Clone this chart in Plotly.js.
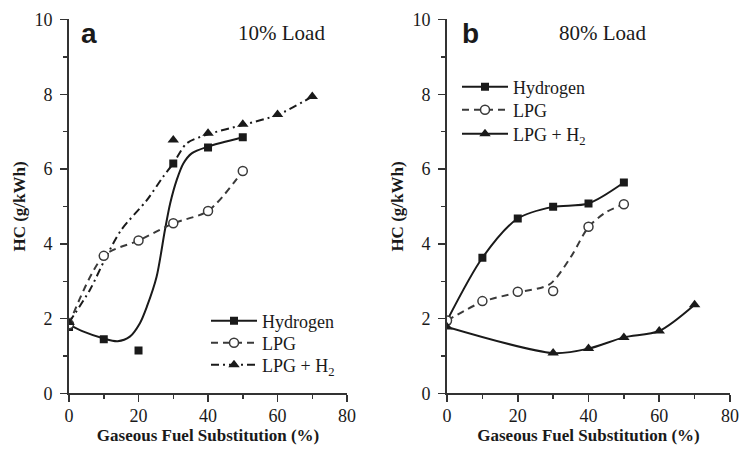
<!DOCTYPE html>
<html>
<head>
<meta charset="utf-8">
<script src="https://cdn.plot.ly/plotly-3.0.1.min.js"></script>
<style>
  html, body { margin: 0; padding: 0; background: #fff; }
  #chart { width: 739px; height: 451px; }
</style>
</head>
<body>
<div id="chart"></div>
<script>
// Gaseous fuel substitution levels (%)
const substitution = [0, 10, 20, 30, 40, 50];
const substitutionMix = [0, 30, 40, 50, 60, 70];

// (a) 10% load: measured HC emissions (g/kWh)
const hydrogenA = [1.78, 1.45, 1.15, 6.15, 6.58, 6.85];
const lpgA = [1.85, 3.68, 4.09, 4.55, 4.88, 5.95];
const lpgH2A = [1.9, 6.78, 6.96, 7.2, 7.46, 7.94];

// (a) 10% load: fitted trend curves
const hydrogenFitAx = [0, 4, 10, 14, 17.5, 20.4, 22.4, 25.2, 27.6, 29.1, 31, 32.9, 35.3, 40, 50];
const hydrogenFitAy = [1.84, 1.66, 1.47, 1.4, 1.52, 1.88, 2.32, 3.12, 4.37, 5.08, 5.71, 6.15, 6.42, 6.6, 6.85];
const lpgH2FitAx = [0, 6, 10.4, 15, 22.4, 27.1, 30, 33.9, 40, 50, 60, 70];
const lpgH2FitAy = [1.9, 2.77, 3.6, 4.37, 5.17, 5.8, 6.15, 6.69, 6.93, 7.18, 7.45, 7.94];

// (b) 80% load: measured HC emissions (g/kWh)
const hydrogenB = [1.95, 3.63, 4.68, 4.99, 5.08, 5.64];
const lpgB = [1.95, 2.47, 2.72, 2.74, 4.46, 5.06];
const lpgH2B = [1.78, 1.08, 1.2, 1.5, 1.67, 2.37];

// (b) 80% load: fitted LPG trend curve
const lpgFitBx = [0, 10, 20, 29, 35, 40, 45, 50];
const lpgFitBy = [1.95, 2.45, 2.7, 2.92, 3.65, 4.45, 4.85, 5.06];

// Series names
const seriesNames = ['Hydrogen', 'LPG', 'LPG + H<sub>2</sub>'];

const ink = '#1a1a1a';
const grey = '#3a3a3a';
const serif = 'Liberation Serif';

const sqMarker = {symbol: 'square', size: 8, color: ink};
const circMarker = {symbol: 'circle', size: 9, color: '#fff', line: {color: grey, width: 1.5}};
const triMarker = {symbol: 'triangle-up', size: 10, color: ink};

const solid = {color: ink, width: 2, shape: 'spline', smoothing: 0.8};
const dashed = {color: grey, width: 2, dash: '7px,5px', shape: 'spline', smoothing: 0.8};
const dashDot = {color: ink, width: 2, dash: '8px,4px,2px,4px', shape: 'spline', smoothing: 0.8};

function legendEntry(name, line, marker, xa, ya, legendId) {
  return {x: [null], y: [null], xaxis: xa, yaxis: ya, mode: 'lines+markers', name: name,
          line: line, marker: marker, legend: legendId, showlegend: true};
}

const traces = [
  // panel a curves
  {x: hydrogenFitAx, y: hydrogenFitAy, xaxis: 'x', yaxis: 'y', mode: 'lines', line: solid, showlegend: false, hoverinfo: 'skip'},
  {x: substitution, y: lpgA, xaxis: 'x', yaxis: 'y', mode: 'lines', line: dashed, showlegend: false, hoverinfo: 'skip'},
  {x: lpgH2FitAx, y: lpgH2FitAy, xaxis: 'x', yaxis: 'y', mode: 'lines', line: dashDot, showlegend: false, hoverinfo: 'skip'},
  // panel a markers
  {x: substitution, y: hydrogenA, xaxis: 'x', yaxis: 'y', mode: 'markers', marker: sqMarker, showlegend: false},
  {x: substitution, y: lpgA, xaxis: 'x', yaxis: 'y', mode: 'markers', marker: circMarker, showlegend: false},
  {x: substitutionMix, y: lpgH2A, xaxis: 'x', yaxis: 'y', mode: 'markers', marker: triMarker, showlegend: false},
  // panel a key
  legendEntry(seriesNames[0], {color: ink, width: 2}, sqMarker, 'x', 'y', 'legend'),
  legendEntry(seriesNames[1], {color: grey, width: 2, dash: '7px,5px'}, circMarker, 'x', 'y', 'legend2'),
  legendEntry(seriesNames[2], {color: ink, width: 2, dash: '8px,4px,2px,4px'}, triMarker, 'x', 'y', 'legend3'),

  // panel b curves
  {x: substitution, y: hydrogenB, xaxis: 'x2', yaxis: 'y2', mode: 'lines', line: solid, showlegend: false, hoverinfo: 'skip'},
  {x: lpgFitBx, y: lpgFitBy, xaxis: 'x2', yaxis: 'y2', mode: 'lines', line: dashed, showlegend: false, hoverinfo: 'skip'},
  {x: substitutionMix, y: lpgH2B, xaxis: 'x2', yaxis: 'y2', mode: 'lines', line: solid, showlegend: false, hoverinfo: 'skip'},
  // panel b markers
  {x: substitution, y: hydrogenB, xaxis: 'x2', yaxis: 'y2', mode: 'markers', marker: sqMarker, showlegend: false},
  {x: substitution, y: lpgB, xaxis: 'x2', yaxis: 'y2', mode: 'markers', marker: circMarker, showlegend: false},
  {x: substitutionMix, y: lpgH2B, xaxis: 'x2', yaxis: 'y2', mode: 'markers', marker: triMarker, showlegend: false},
  // panel b key
  legendEntry(seriesNames[0], {color: ink, width: 2}, sqMarker, 'x2', 'y2', 'legend4'),
  legendEntry(seriesNames[1], {color: grey, width: 2, dash: '7px,5px'}, circMarker, 'x2', 'y2', 'legend5'),
  legendEntry(seriesNames[2], {color: ink, width: 2}, triMarker, 'x2', 'y2', 'legend6')
];

function xAxis(domain, anchor) {
  return {
    domain: domain, anchor: anchor, range: [0, 80], dtick: 20, tick0: 0,
    showline: true, linewidth: 2, linecolor: '#333', showgrid: false, zeroline: false,
    ticks: 'outside', ticklen: 7, tickwidth: 1.5, tickcolor: '#333',
    minor: {dtick: 10, ticks: 'outside', ticklen: 4, tickwidth: 1.5, tickcolor: '#333', showgrid: false},
    tickfont: {family: serif, size: 18, color: ink},
    ticklabelstandoff: -2,
    title: {text: '<b>Gaseous Fuel Substitution (%)</b>', font: {family: serif, size: 17, color: ink}, standoff: 0},
    automargin: false, fixedrange: true
  };
}
function yAxis(domain, anchor) {
  return {
    domain: domain, anchor: anchor, range: [0, 10], dtick: 2, tick0: 0,
    showline: true, linewidth: 2, linecolor: '#333', showgrid: false, zeroline: false,
    ticks: 'outside', ticklen: 7, tickwidth: 1.5, tickcolor: '#333',
    minor: {dtick: 1, ticks: 'outside', ticklen: 4, tickwidth: 1.5, tickcolor: '#333', showgrid: false},
    tickfont: {family: serif, size: 18, color: ink},
    ticklabelstandoff: 4,
    title: {text: '<b>HC (g/kWh)</b>', font: {family: serif, size: 17, color: ink}, standoff: 4},
    automargin: false, fixedrange: true
  };
}

const yDomain = [0.1275, 0.9568];
function keyBox(xPx, yPx) {
  return {
    x: xPx / 739, y: 1 - yPx / 451, xanchor: 'left', yanchor: 'middle',
    bgcolor: 'rgba(0,0,0,0)', borderwidth: 0, font: {family: serif, size: 18, color: ink},
    itemwidth: 46
  };
}

const layout = {
  width: 739, height: 451,
  margin: {l: 0, r: 0, t: 0, b: 0},
  paper_bgcolor: '#fff', plot_bgcolor: '#fff',
  xaxis: xAxis([0.0934, 0.4696], 'y'),
  yaxis: yAxis(yDomain, 'x'),
  xaxis2: xAxis([0.6049, 0.9878], 'y2'),
  yaxis2: yAxis(yDomain, 'x2'),
  legend: keyBox(206, 321),
  legend2: keyBox(206, 343),
  legend3: keyBox(206, 365),
  legend4: keyBox(457, 87),
  legend5: keyBox(457, 110),
  legend6: keyBox(457, 134),
  annotations: [
    {text: '<b>a</b>', xref: 'paper', yref: 'paper', x: 79 / 739, y: 1 - 16 / 451, showarrow: false,
     font: {family: 'Liberation Sans', size: 28, color: ink}},
    {text: '<b>b</b>', xref: 'paper', yref: 'paper', x: 470 / 739, y: 1 - 16 / 451, showarrow: false,
     font: {family: 'Liberation Sans', size: 28, color: ink}},
    {text: '10% Load', xref: 'paper', yref: 'paper', x: 281 / 739, y: 1 - 19 / 451, showarrow: false,
     font: {family: serif, size: 21, color: ink}},
    {text: '80% Load', xref: 'paper', yref: 'paper', x: 648 / 739, y: 1 - 19 / 451, showarrow: false,
     font: {family: serif, size: 21, color: ink}}
  ]
};

Plotly.newPlot('chart', traces, layout, {displayModeBar: false, staticPlot: true});
</script>
</body>
</html>
